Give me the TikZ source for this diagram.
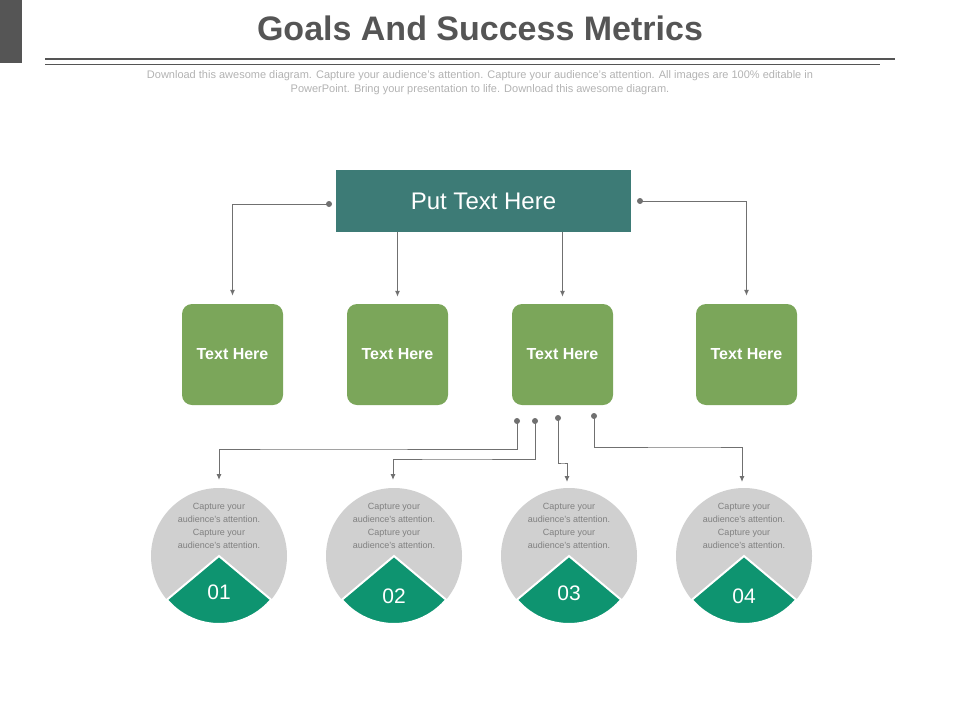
\documentclass[tikz,border=0pt]{standalone}
\usepackage{fontspec}
\setmainfont{Liberation Sans}
\usetikzlibrary{positioning,arrows.meta}
\definecolor{headgray}{HTML}{555555}
\definecolor{topteal}{HTML}{3D7B76}
\definecolor{boxgreen}{HTML}{7BA65A}
\definecolor{pietgreen}{HTML}{0E9470}
\definecolor{piegray}{HTML}{D0D0D0}
\definecolor{wiregray}{HTML}{707070}
\tikzset{
  wire/.style={draw=wiregray,line width=1pt},
  arrowwire/.style={wire,-{Latex[length=6pt,width=5pt]}},
  greenbox/.style={fill=boxgreen,rounded corners=10pt,minimum width=101pt,minimum height=101pt,
    text=white,font=\bfseries\fontsize{16}{18}\selectfont},
  dotnode/.style={circle,fill=wiregray,inner sep=0pt,minimum size=6pt},
  captext/.style={text=gray,align=center,font=\fontsize{9}{13}\selectfont}
}
\begin{document}
\begin{tikzpicture}[x=1pt,y=1pt]
\useasboundingbox (0,0) rectangle (960,-720);
% Header
\fill[headgray] (0,0) rectangle (22,-63);
\node[text=headgray,font=\bfseries\fontsize{34}{40}\selectfont] (title) at (480,-28) {Goals And Success Metrics};
\draw[headgray,line width=2.5pt] (45,-59) -- (895,-59);
\draw[headgray,line width=0.5pt] (45,-64) -- (880,-64);
\node[text=lightgray!80!gray,align=center,font=\fontsize{11}{14}\selectfont] (sub) at (480,-83)
  {Download this awesome diagram. Capture your audience's attention. Capture your audience's attention. All images are 100\% editable in\\
   PowerPoint. Bring your presentation to life. Download this awesome diagram.};

% Top box
\node[fill=topteal,minimum width=295pt,minimum height=62pt,text=white,font=\fontsize{24}{28}\selectfont] (top) at (483.5,-201) {Put Text Here};

% Green boxes
\node[greenbox] (g1) at (232.5,-354.5) {Text Here};
\node[greenbox] (g2) at (397.5,-354.5) {Text Here};
\node[greenbox] (g3) at (562.5,-354.5) {Text Here};
\node[greenbox] (g4) at (746.5,-354.5) {Text Here};

% Upper connectors
\node[dotnode] (d1) at (329,-204) {};
\node[dotnode] (d2) at (640,-201) {};
\draw[arrowwire] (d1.center) -| ([yshift=8pt]g1.north);
\draw[arrowwire] (d2.center) -| ([yshift=8pt]g4.north);
\draw[arrowwire] (top.south -| g2) -- ([yshift=7pt]g2.north);
\draw[arrowwire] (top.south -| g3) -- ([yshift=7pt]g3.north);

% Circles
\foreach \cx/\num/\ny in {219/01/-592, 394/02/-596, 569/03/-593, 744/04/-596}{
  \fill[piegray] (\cx,-556) circle (68);
  \fill[pietgreen,draw=white,line width=2pt] (\cx,-556) -- ++(-140:68) arc (-140:-40:68) -- cycle;
  \node[text=white,font=\fontsize{21}{24}\selectfont] at (\cx,\ny) {\num};
  \node[captext] at (\cx,-526) {Capture your\\audience's attention.\\Capture your\\audience's attention.};
}
\coordinate (c1) at (219,-480);
\coordinate (c2) at (393,-480);
\coordinate (c3) at (567,-482);
\coordinate (c4) at (742,-482);

% Lower connectors
\node[dotnode] (e1) at (517,-421) {};
\node[dotnode] (e2) at (535,-421) {};
\node[dotnode] (e3) at (558,-418) {};
\node[dotnode] (e4) at (594,-416) {};
\draw[arrowwire] (e1.center) |- (300,-449) -| (c1);
\draw[arrowwire] (e2.center) |- (450,-459) -| (c2);
\draw[arrowwire] (e3.center) |- (563,-463) -| (c3);
\draw[arrowwire] (e4.center) |- (700,-447) -| (c4);
\end{tikzpicture}
\end{document}
